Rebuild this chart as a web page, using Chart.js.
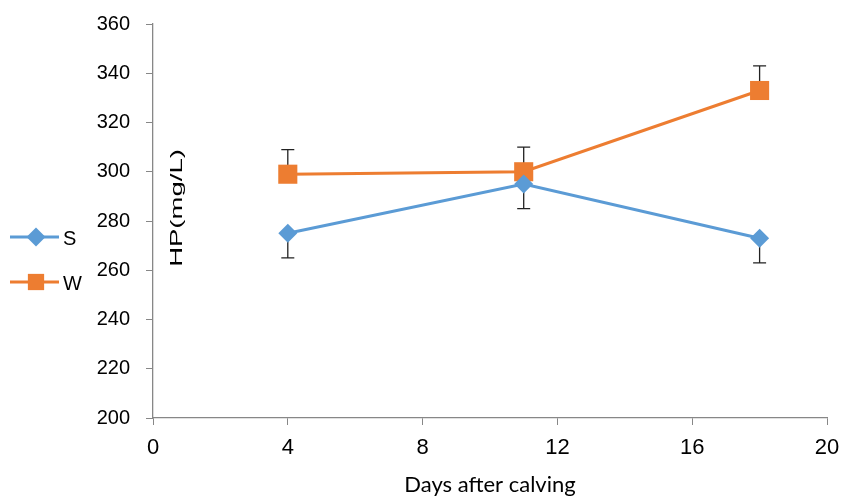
<!DOCTYPE html>
<html>
<head>
<meta charset="utf-8">
<script src="https://cdn.jsdelivr.net/npm/chart.js@4"></script>
<style>
  html, body { margin: 0; padding: 0; background: #fff; }
  #wrap { width: 842px; height: 498px; }
</style>
</head>
<body>
<div id="wrap"><canvas id="chart"></canvas></div>
<script>
// data
var days = [4, 11, 18];
var sValues = [275, 295, 273];
var wValues = [299, 300, 333];
var sErr = [10, 10, 10];   // drawn downward
var wErr = [10, 10, 10];   // drawn upward
var xTicks = [0, 4, 8, 12, 16, 20];
var yTicks = [200, 220, 240, 260, 280, 300, 320, 340, 360];

var blue = "#5B9BD5";
var orange = "#ED7D31";
var axisColor = "#878787";
var sans = "'Liberation Sans', Arial, sans-serif";

function toPoints(xs, ys) {
  var out = [];
  for (var i = 0; i < xs.length; i++) out.push({ x: xs[i], y: ys[i] });
  return out;
}

var errorBars = {
  id: "errorBars",
  beforeDatasetsDraw: function (chart) {
    var xs = chart.scales.x, ys = chart.scales.y;
    var ctx = chart.ctx;
    ctx.save();
    ctx.strokeStyle = "#222";
    ctx.lineWidth = 1.3;
    var sets = [[sValues, sErr, -1], [wValues, wErr, 1]];
    sets.forEach(function (s) {
      for (var i = 0; i < days.length; i++) {
        var px = xs.getPixelForValue(days[i]);
        var y0 = ys.getPixelForValue(s[0][i]);
        var y1 = ys.getPixelForValue(s[0][i] + s[2] * s[1][i]);
        ctx.beginPath();
        ctx.moveTo(px, y0); ctx.lineTo(px, y1);
        ctx.moveTo(px - 6.5, y1); ctx.lineTo(px + 6.5, y1);
        ctx.stroke();
      }
    });
    ctx.restore();
  }
};

var extras = {
  id: "extras",
  afterDraw: function (chart) {
    var ctx = chart.ctx;
    ctx.save();
    // y axis title, sits just right of the axis line (text is stretched lengthwise in the original)
    ctx.translate(178, 208);
    ctx.rotate(-Math.PI / 2);
    ctx.scale(1.72, 1);
    ctx.fillStyle = "#000";
    ctx.font = "16px " + sans;
    ctx.textAlign = "center";
    ctx.textBaseline = "middle";
    ctx.fillText("HP(mg/L)", 0, 0);
    ctx.restore();

    // legend on the far left
    var items = [
      { label: "S", color: blue, style: "rectRot", r: 9.5, y: 237 },
      { label: "W", color: orange, style: "rect", r: 11.5, y: 282 }
    ];
    items.forEach(function (it) {
      ctx.save();
      ctx.strokeStyle = it.color;
      ctx.lineWidth = 3;
      ctx.beginPath();
      ctx.moveTo(10, it.y); ctx.lineTo(59, it.y);
      ctx.stroke();
      ctx.fillStyle = it.color;
      Chart.helpers.drawPoint(ctx, { pointStyle: it.style, radius: it.r, borderWidth: 0 }, 36, it.y);
      ctx.fillStyle = "#000";
      ctx.font = "20px " + sans;
      ctx.textAlign = "left";
      ctx.textBaseline = "middle";
      ctx.fillText(it.label, 63, it.y + 2);
      ctx.restore();
    });
  }
};

new Chart(document.getElementById("chart"), {
  type: "line",
  data: {
    datasets: [{
      label: "S",
      data: toPoints(days, sValues),
      borderColor: blue,
      backgroundColor: blue,
      borderWidth: 3,
      pointStyle: "rectRot",
      pointRadius: 9.5,
      pointBorderWidth: 0,
      tension: 0
    }, {
      label: "W",
      data: toPoints(days, wValues),
      borderColor: orange,
      backgroundColor: orange,
      borderWidth: 3,
      pointStyle: "rect",
      pointRadius: 13.5,
      pointBorderWidth: 0,
      tension: 0
    }]
  },
  options: {
    responsive: true,
    maintainAspectRatio: false,
    animation: false,
    layout: { padding: { left: 0, right: 15, top: 24, bottom: 0 } },
    plugins: {
      legend: { display: false },
      tooltip: { enabled: false }
    },
    scales: {
      x: {
        type: "linear",
        min: 0,
        max: 20,
        afterBuildTicks: function (axis) {
          axis.ticks = xTicks.map(function (v) { return { value: v }; });
        },
        grid: { drawOnChartArea: false, drawTicks: true, tickLength: 7, color: axisColor },
        border: { color: axisColor, width: 1.3 },
        ticks: { color: "#000", font: { family: sans, size: 22 }, padding: 10, maxRotation: 0 },
        title: {
          display: true,
          text: "Days after calving",
          color: "#000",
          font: { family: "Lato, 'Open Sans', sans-serif", size: 22 },
          padding: { top: 0, bottom: 0 }
        },
        afterFit: function (axis) {
          axis.height = 80;
          axis.paddingLeft = 0;
          axis.paddingRight = 0;
        }
      },
      y: {
        min: 200,
        max: 360,
        afterBuildTicks: function (axis) {
          axis.ticks = yTicks.map(function (v) { return { value: v }; });
        },
        grid: { drawOnChartArea: false, drawTicks: true, tickLength: 7, color: axisColor },
        border: { color: axisColor, width: 1.3 },
        ticks: { color: "#000", font: { family: sans, size: 20 }, padding: 16 },
        afterFit: function (axis) {
          axis.width = 153;
          axis.paddingTop = 0;
          axis.paddingBottom = 0;
        }
      }
    }
  },
  plugins: [errorBars, extras]
});
</script>
</body>
</html>
